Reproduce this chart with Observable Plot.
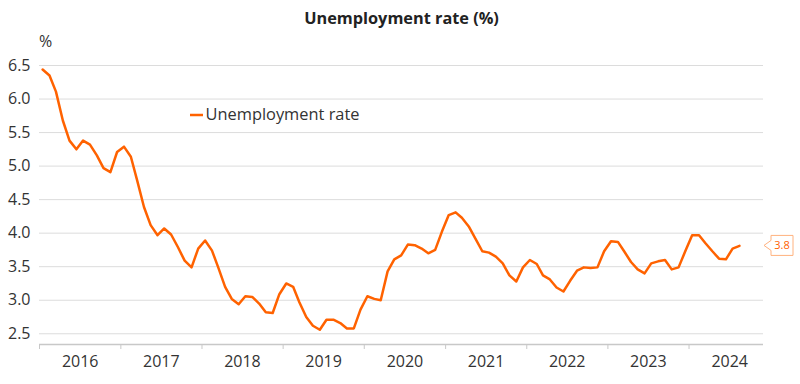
<!DOCTYPE html>
<html><head><meta charset="utf-8">
<script src="https://cdn.jsdelivr.net/npm/d3@7"></script>
<script src="https://cdn.jsdelivr.net/npm/@observablehq/plot@0.6"></script>
<style>
body{margin:0;background:#fff;}
#chart svg{font-family:"Open Sans",sans-serif;}
</style>
</head><body><div id="chart"></div>
<script>
// ---- data ----
const titleText = "Unemployment rate (%)";
const unitLabel = "%";
const seriesName = "Unemployment rate";
const firstMonth = "2016-01-01";
const rates = [
  6.44,6.35,6.11,5.68,5.38,5.25,5.38,5.32,5.16,4.97,4.91,5.21,
  5.29,5.14,4.79,4.39,4.12,3.97,4.07,3.98,3.79,3.59,3.49,3.77,
  3.89,3.74,3.49,3.20,3.02,2.94,3.06,3.05,2.95,2.82,2.81,3.09,
  3.25,3.20,2.97,2.75,2.62,2.56,2.71,2.71,2.66,2.58,2.58,2.86,
  3.06,3.02,3.00,3.43,3.61,3.67,3.83,3.82,3.77,3.70,3.75,4.02,
  4.27,4.31,4.23,4.10,3.92,3.73,3.71,3.65,3.55,3.37,3.28,3.49,
  3.60,3.54,3.37,3.31,3.19,3.13,3.29,3.44,3.49,3.48,3.49,3.73,
  3.88,3.87,3.73,3.57,3.46,3.40,3.55,3.58,3.60,3.46,3.49,3.73,
  3.97,3.97,3.85,3.73,3.62,3.61,3.77,3.81
];
const yTicks = [2.5,3.0,3.5,4.0,4.5,5.0,5.5,6.0,6.5];
const yearLabels = ["2016","2017","2018","2019","2020","2021","2022","2023","2024"];
const lastLabel = "3.8";

// ---- build table ----
const start = new Date(firstMonth);
const data = rates.map((v, i) => ({
  date: d3.utcDay.offset(d3.utcMonth.offset(start, i), 14),
  value: v
}));
const yearStarts = yearLabels.map(y => new Date(`${y}-01-01`));
const yearMids = yearLabels.map(y => ({label: y, date: new Date(`${y}-07-02`)}));

const orange = "#FF6200";
const textCol = "#333333";

const chart = Plot.plot({
  width: 800,
  height: 384,
  marginLeft: 39,
  marginRight: 37,
  marginTop: 65,
  marginBottom: 40,
  x: {type: "utc", domain: [new Date("2016-01-01"), new Date("2024-12-01")]},
  y: {domain: [2.34, 6.5]},
  marks: [
    Plot.gridY(yTicks, {stroke: "#dcdcdc", strokeOpacity: 1, strokeWidth: 1}),
    Plot.axisY(yTicks, {tickSize: 0, tickPadding: 9, tickFormat: d => d.toFixed(1), fontSize: 16, fill: textCol, label: null}),
    Plot.ruleY([2.34], {stroke: "#c8c8c8", strokeWidth: 1.5}),
    Plot.axisX(yearStarts, {tickSize: 5, tickFormat: () => "", stroke: "#c8c8c8", label: null}),
    Plot.text(yearMids, {x: "date", text: "label", frameAnchor: "bottom", lineAnchor: "middle", dy: 17.7, fontSize: 16, fill: textCol}),
    Plot.lineY(data, {x: "date", y: "value", stroke: orange, strokeWidth: 2.5}),
    Plot.text([titleText], {frameAnchor: "top", lineAnchor: "middle", dy: -47, fontSize: 16.3, fontWeight: "bold", fill: "#222"}),
    Plot.text([unitLabel], {frameAnchor: "top-left", lineAnchor: "middle", dx: -0.5, dy: -23.5, fontSize: 16, fill: textCol}),
    Plot.text([seriesName], {frameAnchor: "top-left", lineAnchor: "middle", dx: 166, dy: 49.5, fontSize: 16.4, fill: textCol, textAnchor: "start"})
  ]
});

// legend swatch and end-value callout, positioned with the chart's scales
const svg = d3.select(chart);
const ys = chart.scale("y");
const xs = chart.scale("x");
const legY = 65 + 50;
svg.append("line").attr("x1", 190).attr("x2", 203).attr("y1", legY).attr("y2", legY)
  .attr("stroke", orange).attr("stroke-width", 2.5);

const last = rates[rates.length - 1];
const yv = ys.apply(last);
const xr = xs.range[1] + 1;
const bx = xr + 7, bw = 22, bh = 20;
svg.append("path")
  .attr("d", `M${xr},${yv} L${bx},${yv-5} L${bx},${yv-bh/2} L${bx+bw},${yv-bh/2} L${bx+bw},${yv+bh/2} L${bx},${yv+bh/2} L${bx},${yv+5} Z`)
  .attr("fill", "#fff").attr("stroke", "#ffb27f").attr("stroke-width", 1);
svg.append("text").attr("x", bx + bw/2).attr("y", yv).attr("dy", "0.35em")
  .attr("text-anchor", "middle").attr("font-size", 11).attr("fill", orange).text(lastLabel);

document.getElementById("chart").append(chart);
</script>
</body></html>
